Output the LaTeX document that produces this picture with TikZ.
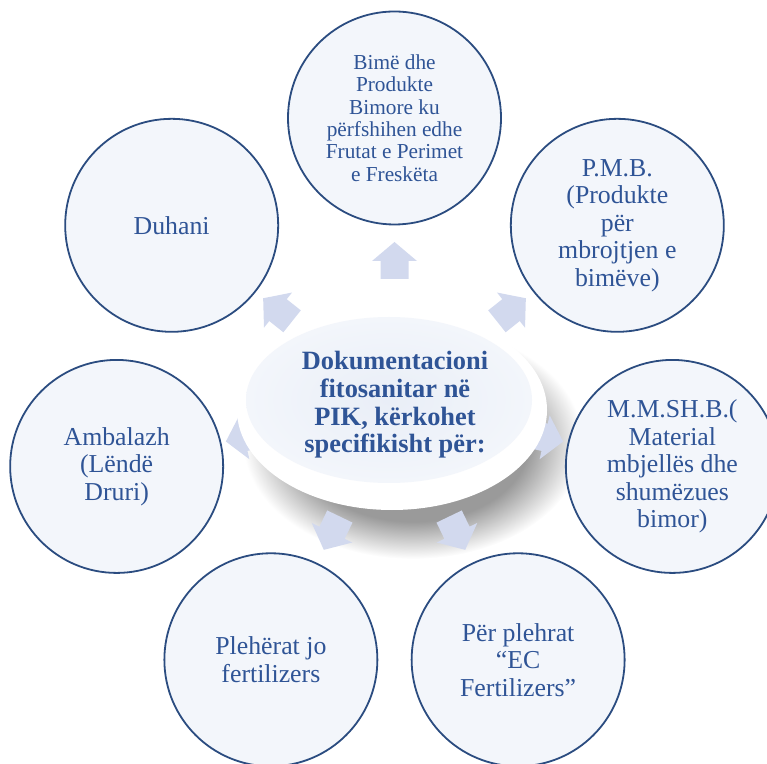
\documentclass[tikz,border=0pt]{standalone}
\usepackage{fontspec}
\setmainfont{Liberation Serif}
\usetikzlibrary{shapes.geometric,calc}
\definecolor{txtblue}{HTML}{2F5496}
\definecolor{ringblue}{HTML}{2B4C80}
\definecolor{circfill}{HTML}{F3F6FB}
\definecolor{arrowfill}{HTML}{D2D9EE}
\definecolor{innerfill}{HTML}{E9EEF7}
\definecolor{inneredge}{HTML}{F3F6FB}
\definecolor{shadowgray}{HTML}{9A9A9A}
\pgfdeclareradialshading{discshadow}{\pgfpoint{0bp}{0bp}}{%
  color(0bp)=(shadowgray); color(17bp)=(shadowgray);
  color(25bp)=(white); color(50bp)=(white)}
\begin{document}
\begin{tikzpicture}[x=1pt,y=1pt,
  bubble/.style={circle, draw=ringblue, line width=1.8pt, fill=circfill,
    minimum size=213pt, inner sep=0pt, align=center, text=txtblue,
    font=\fontsize{25.8}{27.5}\selectfont},
  smalltext/.style={font=\fontsize{21.3}{22.3}\selectfont},
  blockarrow/.style={fill=arrowfill, draw=none}]
\useasboundingbox (0,0) rectangle (767,763);
\clip (0,0) rectangle (767,763);
\coordinate (C) at (394.5,360);
% soft shadow below the central disc
\shade[shading=discshadow] (413,321) ellipse [x radius=170, y radius=117];
% block arrows
\foreach \a/\d in {90/161, 38.57/168, -12.86/173, -64.29/163,
                   -115.71/163, -167.14/173, 141.43/168} {
  \begin{scope}[shift={(C)}, rotate=\a]
    \fill[blockarrow] (\d-37,-14) -- (\d-19,-14) -- (\d-19,-22.5) -- (\d,0)
      -- (\d-19,22.5) -- (\d-19,14) -- (\d-37,14) -- cycle;
  \end{scope}
}
% central disc
\node[ellipse, fill=white, minimum width=310pt, minimum height=200pt,
  inner sep=0pt] (hub) at (392,353) {};
\node[ellipse, inner color=innerfill, outer color=inneredge,
  minimum width=286pt, minimum height=166pt, inner sep=0pt] (hubin) at (389,363) {};
\node[text=txtblue, align=center,
  font=\bfseries\fontsize{26.4}{27.7}\selectfont] (hubtext) at (395,358)
  {Dokumentacioni\\fitosanitar në\\PIK, kërkohet\\specifikisht për:};
% surrounding circles
\node[bubble, smalltext] (c1) at ($(C)+(90:285)$)
  {Bimë dhe\\Produkte\\Bimore ku\\përfshihen edhe\\Frutat e Perimet\\e Freskëta};
\node[bubble] (c2) at ($(C)+(38.57:285)$)
  {P.M.B.\\(Produkte\\për\\mbrojtjen e\\bimëve)};
\node[bubble] (c3) at ($(C)+(-12.86:285)$)
  {M.M.SH.B.(\\Material\\mbjellës dhe\\shumëzues\\bimor)};
\node[bubble] (c4) at ($(C)+(-64.29:285)$)
  {Për plehrat\\“EC\\Fertilizers”};
\node[bubble] (c5) at ($(C)+(-115.71:285)$)
  {Plehërat jo\\fertilizers};
\node[bubble] (c6) at ($(C)+(-167.14:285)$)
  {Ambalazh\\(Lëndë\\Druri)};
\node[bubble] (c7) at ($(C)+(141.43:285)$)
  {Duhani};
\end{tikzpicture}
\end{document}
